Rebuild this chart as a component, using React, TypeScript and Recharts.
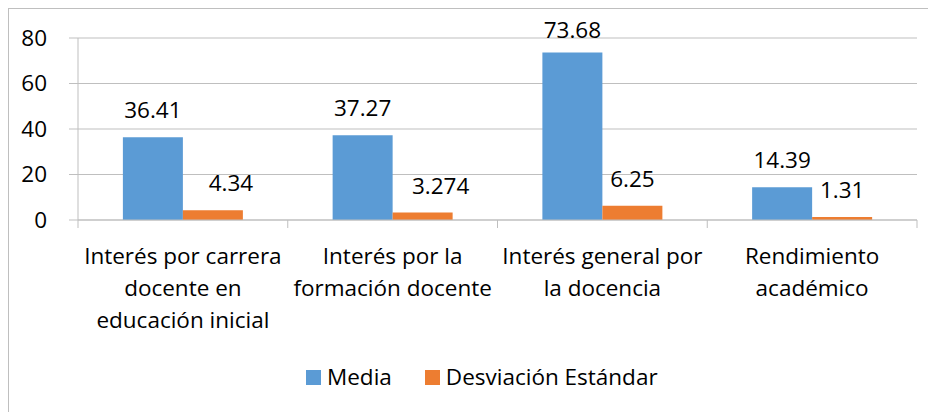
import React from 'react'
import { BarChart, Bar, XAxis, YAxis, CartesianGrid, Legend, LabelList } from 'recharts'

// category labels, already broken into lines like the original
const categories = [
  ['Interés por carrera', 'docente en', 'educación inicial'],
  ['Interés por la', 'formación docente'],
  ['Interés general por', 'la docencia'],
  ['Rendimiento', 'académico'],
]
const media = [36.41, 37.27, 73.68, 14.39]
const desviacion = [4.34, 3.274, 6.25, 1.31]
const yTicks = [0, 20, 40, 60, 80]
const seriesOrder = ['media', 'desviacion']

const data = categories.map((lines, i) => ({
  name: lines.join(' '),
  media: media[i],
  desviacion: desviacion[i],
}))

const W = 927
const H = 403
const MARGIN = { top: 29, right: 19, left: 0, bottom: 0 }
const Y_AXIS_W = 69
const PLOT_H = 182
const AXIS_Y = MARGIN.top + PLOT_H
const BAND = (W - MARGIN.right - Y_AXIS_W) / categories.length

const FONT = '"Open Sans", Lato, sans-serif'
const FONT_SIZE = 22.5
const TEXT = '#000'
const LINE = '#bfbfbf'
const BLUE = '#5b9bd5'
const ORANGE = '#ed7d31'

const CategoryTick = (props: any) => {
  const { x, index } = props
  const lines = categories[index] || []
  const half = BAND / 2
  return (
    <g>
      <line x1={x - half} x2={x - half} y1={AXIS_Y} y2={AXIS_Y + 8} stroke={LINE} />
      {index === categories.length - 1 && (
        <line x1={x + half} x2={x + half} y1={AXIS_Y} y2={AXIS_Y + 8} stroke={LINE} />
      )}
      <text x={x} y={AXIS_Y + 44} textAnchor="middle" fontSize={FONT_SIZE} fill={TEXT}>
        {lines.map((l, i) => (
          <tspan key={i} x={x} dy={i === 0 ? 0 : 31.8}>
            {l}
          </tspan>
        ))}
      </text>
    </g>
  )
}

// the first two std-dev labels sit a bit to the right in the original
const makeLabel = (shifted: number[]) => (props: any) => {
  const { x, y, width, value, index } = props
  const dx = shifted.includes(index) ? 18 : 0
  return (
    <text
      x={x + width / 2 + dx}
      y={Math.max(y - 19, MARGIN.top)}
      textAnchor="middle"
      fontSize={FONT_SIZE}
      fill={TEXT}
    >
      {value}
    </text>
  )
}

const renderLegend = (props: any) => {
  const items = [...(props.payload || [])].sort(
    (a: any, b: any) => seriesOrder.indexOf(a.dataKey) - seriesOrder.indexOf(b.dataKey)
  )
  return (
    <div style={{ display: 'flex', alignItems: 'center', lineHeight: '26px', fontSize: FONT_SIZE, color: TEXT }}>
      {items.map((entry: any, i: number) => (
        <div key={i} style={{ display: 'flex', alignItems: 'center', marginRight: 33 }}>
          <span style={{ display: 'inline-block', width: 15, height: 15, background: entry.color, marginRight: 6 }} />
          <span>{entry.value}</span>
        </div>
      ))}
    </div>
  )
}

export default function App() {
  return (
    <div
      style={{
        width: W,
        height: H,
        borderTop: `1px solid ${LINE}`,
        borderLeft: `1px solid ${LINE}`,
        fontFamily: FONT,
      }}
    >
      <BarChart width={W} height={H} data={data} margin={MARGIN} barCategoryGap="21.4%" barGap={0}>
        <CartesianGrid vertical={false} stroke={LINE} />
        <XAxis
          dataKey="name"
          height={H - AXIS_Y}
          interval={0}
          tickLine={false}
          axisLine={{ stroke: LINE }}
          tick={<CategoryTick />}
        />
        <YAxis
          width={Y_AXIS_W}
          domain={[0, 80]}
          ticks={yTicks}
          tickSize={9}
          tickMargin={22}
          axisLine={{ stroke: LINE }}
          tickLine={{ stroke: LINE }}
          tick={{ fill: TEXT, fontSize: FONT_SIZE }}
        />
        <Legend
          layout="horizontal"
          verticalAlign="middle"
          align="center"
          content={renderLegend}
          wrapperStyle={{ left: 297, top: 355, width: 'auto' }}
        />
        <Bar dataKey="media" name="Media" fill={BLUE} isAnimationActive={false}>
          <LabelList dataKey="media" content={makeLabel([])} />
        </Bar>
        <Bar dataKey="desviacion" name="Desviación Estándar" fill={ORANGE} isAnimationActive={false}>
          <LabelList dataKey="desviacion" content={makeLabel([0, 1])} />
        </Bar>
      </BarChart>
    </div>
  )
}
